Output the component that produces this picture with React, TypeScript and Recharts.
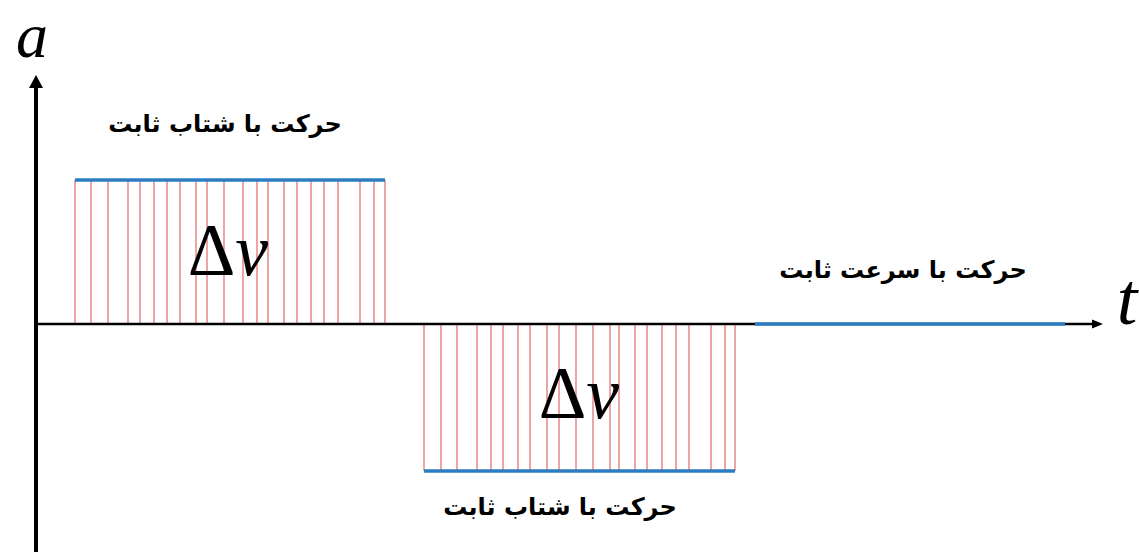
import React from 'react';
import {
  ComposedChart,
  Line,
  XAxis,
  YAxis,
  ReferenceLine,
  ReferenceDot
} from 'recharts';

// Motion phases: start time, end time and acceleration of each one
const phaseStart = [3.9, 38.8, 71.9];
const phaseEnd = [34.9, 69.9, 102.9];
const phaseAccel = [3, -3.06, 0];

// Time positions of the hatch strokes filling the two Δv areas
const hatchFirst = [
  3.9, 5.5, 7.2, 9.2, 10.4, 11.8, 13.1, 14.4, 16.0, 17.1, 18.8,
  20.7, 22.1, 23.2, 24.8, 26.1, 27.5, 28.8, 30.2, 32.4, 33.8, 34.9
];
const hatchSecond = [
  38.8, 40.5, 42.1, 44.1, 45.5, 46.7, 48.2, 49.4, 51.1, 52.3, 54.0,
  55.7, 57.4, 58.3, 59.9, 61.1, 62.6, 64.0, 65.3, 67.5, 68.9, 69.9
];

const T_MAX = 106.7;
const A_MIN = -4.75;
const A_MAX = 5.19;

const BLUE = '#2b7cc2';
const HATCH = '#e05a5a';
const SERIF = '"Liberation Serif", "DejaVu Serif", serif';
const PERSIAN = '"DejaVu Sans", sans-serif';

const phases = phaseStart.map((s, i) => [
  { t: s, a: phaseAccel[i] },
  { t: phaseEnd[i], a: phaseAccel[i] }
]);

// Axis line with a filled arrowhead at its second end
const ArrowLine = ({ x1, y1, x2, y2, head, half, width }: any) => {
  const len = Math.hypot(x2 - x1, y2 - y1) || 1;
  const ux = (x2 - x1) / len;
  const uy = (y2 - y1) / len;
  const bx = x2 - ux * head;
  const by = y2 - uy * head;
  const px = -uy * half;
  const py = ux * half;
  return (
    <g>
      <line x1={x1} y1={y1} x2={bx} y2={by} stroke="#000" strokeWidth={width} />
      <polygon
        points={`${x2},${y2} ${bx + px},${by + py} ${bx - px},${by - py}`}
        fill="#000"
      />
    </g>
  );
};

const Caption = ({ cx, cy, children, size, font, weight, italic }: any) => (
  <text
    x={cx}
    y={cy}
    textAnchor="middle"
    fontFamily={font}
    fontSize={size}
    fontWeight={weight || 'normal'}
    fontStyle={italic ? 'italic' : 'normal'}
    fill="#000"
  >
    {children}
  </text>
);

const DeltaV = ({ cx, cy }: any) => (
  <text x={cx} y={cy} textAnchor="middle" fontFamily={SERIF} fontSize={74} fill="#000">
    <tspan>Δ</tspan>
    <tspan fontStyle="italic">v</tspan>
  </text>
);

const hatchLine = (t: number, a: number) => (
  <ReferenceLine
    key={`h-${t}`}
    segment={[{ x: t, y: 0 }, { x: t, y: a }]}
    stroke={HATCH}
    strokeWidth={1.3}
    strokeOpacity={0.85}
  />
);

const App: React.FC = () => {
  return (
    <div style={{ position: 'absolute', left: 0, top: 0, background: '#fff' }}>
      <ComposedChart
        width={1139}
        height={552}
        margin={{ top: 75, right: 36, left: 36, bottom: 0 }}
      >
        <XAxis type="number" dataKey="t" domain={[0, T_MAX]} hide />
        <YAxis type="number" dataKey="a" domain={[A_MIN, A_MAX]} hide />

        {hatchFirst.map(t => hatchLine(t, phaseAccel[0]))}
        {hatchSecond.map(t => hatchLine(t, phaseAccel[1]))}

        {/* time axis */}
        <ReferenceLine
          segment={[{ x: 0, y: 0 }, { x: T_MAX, y: 0 }]}
          shape={(p: any) => <ArrowLine {...p} head={11} half={4.5} width={2.5} />}
        />
        {/* acceleration axis */}
        <ReferenceLine
          segment={[{ x: 0, y: A_MIN }, { x: 0, y: A_MAX }]}
          shape={(p: any) => <ArrowLine {...p} head={13} half={7} width={4} />}
        />

        {phases.map((d, i) => (
          <Line
            key={`phase-${i}`}
            data={d}
            dataKey="a"
            stroke={BLUE}
            strokeWidth={3.5}
            dot={false}
            activeDot={false}
            isAnimationActive={false}
          />
        ))}

        <ReferenceDot x={-0.4} y={5.56} r={0} ifOverflow="visible"
          shape={(p: any) => <Caption {...p} size={64} font={SERIF} italic>a</Caption>} />
        <ReferenceDot x={109.1} y={0} r={0} ifOverflow="visible"
          shape={(p: any) => <Caption {...p} size={74} font={SERIF} italic>t</Caption>} />

        <ReferenceDot x={19.2} y={1.02} r={0} ifOverflow="visible"
          shape={(p: any) => <DeltaV {...p} />} />
        <ReferenceDot x={54.3} y={-1.96} r={0} ifOverflow="visible"
          shape={(p: any) => <DeltaV {...p} />} />

        <ReferenceDot x={18.9} y={4.0} r={0} ifOverflow="visible"
          shape={(p: any) => <Caption {...p} size={24} font={PERSIAN} weight="bold">حرکت با شتاب ثابت</Caption>} />
        <ReferenceDot x={86.7} y={0.96} r={0} ifOverflow="visible"
          shape={(p: any) => <Caption {...p} size={24} font={PERSIAN} weight="bold">حرکت با سرعت ثابت</Caption>} />
        <ReferenceDot x={52.4} y={-3.98} r={0} ifOverflow="visible"
          shape={(p: any) => <Caption {...p} size={24} font={PERSIAN} weight="bold">حرکت با شتاب ثابت</Caption>} />
      </ComposedChart>
    </div>
  );
};

export default App;
